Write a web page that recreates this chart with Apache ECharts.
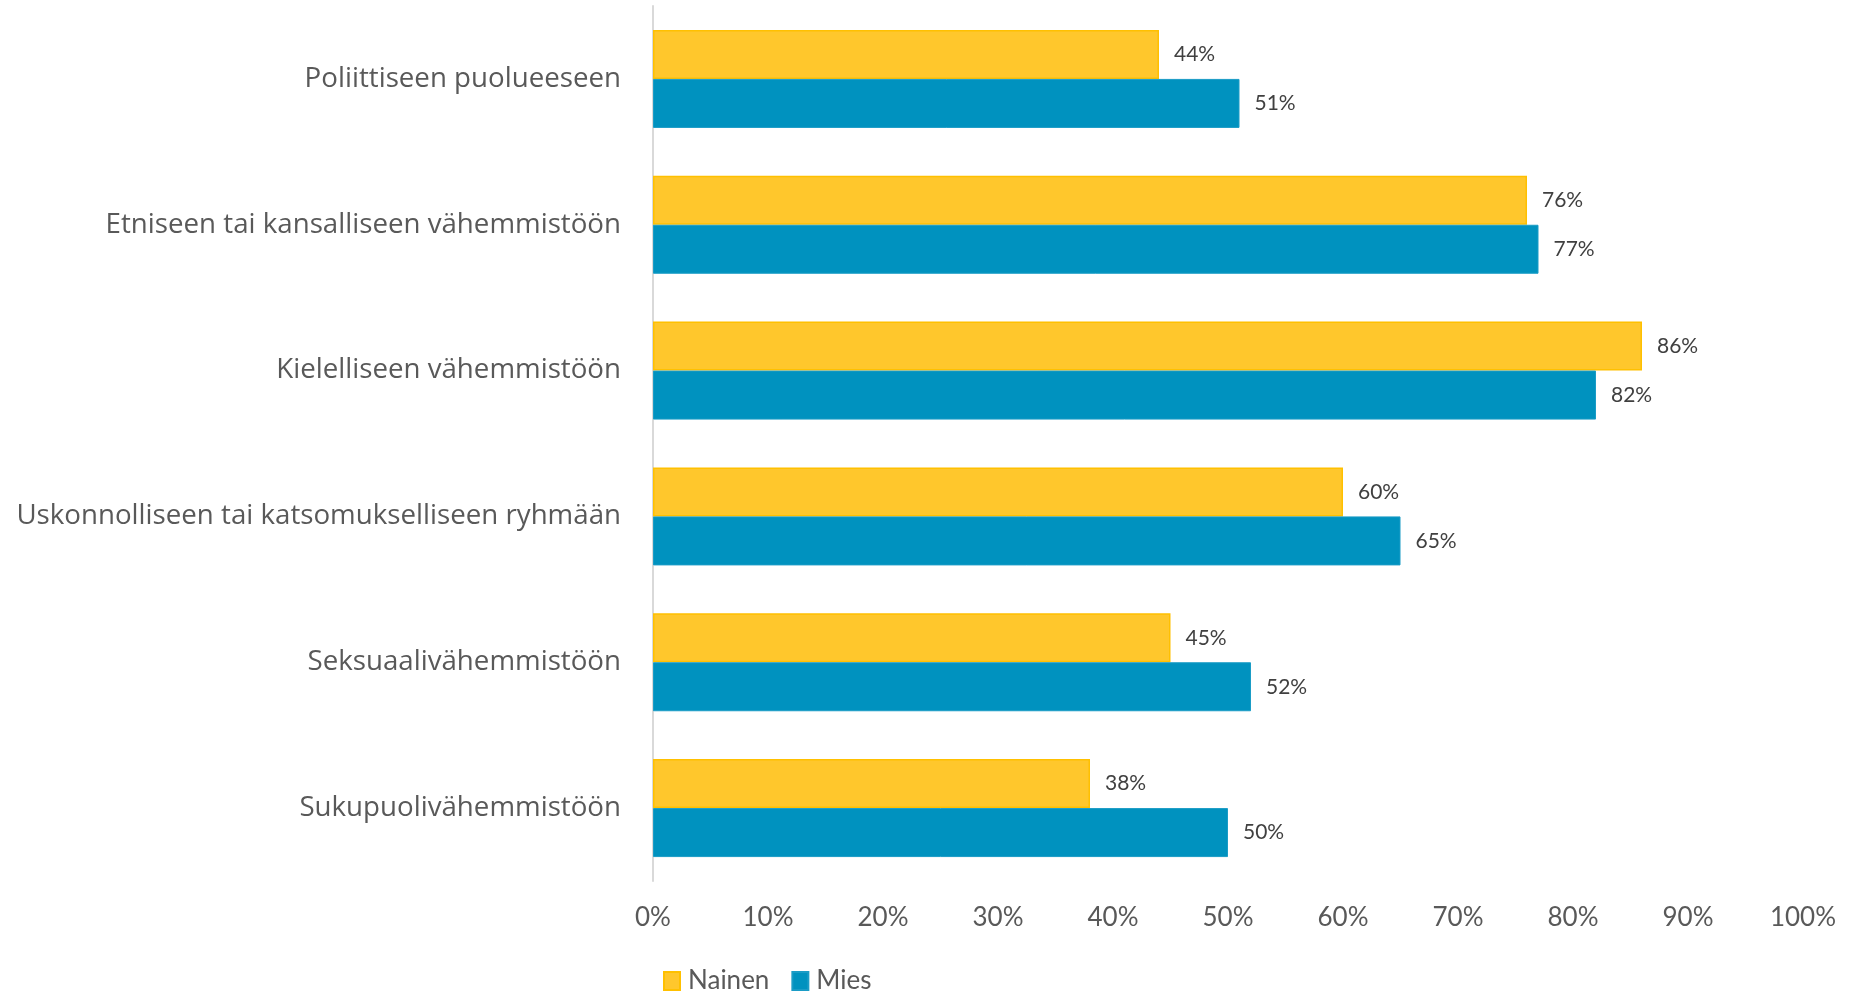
<!DOCTYPE html>
<html>
<head>
<meta charset="utf-8">
<script src="https://cdn.jsdelivr.net/npm/echarts@6/dist/echarts.min.js"></script>
<style>
  html, body { margin: 0; padding: 0; background: #ffffff; }
  #chart { width: 1862px; height: 991px; }
</style>
</head>
<body>
<div id="chart"></div>
<script>
// Survey groups (top to bottom)
const categories = [
  'Poliittiseen puolueeseen',
  'Etniseen tai kansalliseen vähemmistöön',
  'Kielelliseen vähemmistöön',
  'Uskonnolliseen tai katsomukselliseen ryhmään',
  'Seksuaalivähemmistöön',
  'Sukupuolivähemmistöön'
];
const seriesNames = ['Nainen', 'Mies'];
const nainen = [44, 76, 86, 60, 45, 38];
const mies = [51, 77, 82, 65, 52, 50];

const textColor = '#595959';
const fontFamily = 'Lato, "Open Sans", sans-serif';

const chart = echarts.init(document.getElementById('chart'), null, { renderer: 'canvas' });

const labelStyle = {
  show: true,
  position: 'right',
  distance: 15,
  color: '#404040',
  fontSize: 21,
  fontFamily: fontFamily,
  formatter: p => p.value + '%'
};

chart.setOption({
  animation: false,
  backgroundColor: '#ffffff',
  grid: { left: 653, right: 59, top: 6, bottom: 110, containLabel: false },
  legend: {
    data: seriesNames,
    left: 658,
    top: 963,
    itemWidth: 16,
    itemHeight: 18,
    itemGap: 22,
    icon: 'rect',
    textStyle: { color: textColor, fontSize: 26, fontFamily: fontFamily, padding: [0, 0, 0, 3] }
  },
  xAxis: {
    type: 'value',
    min: 0,
    max: 100,
    interval: 10,
    axisLine: { show: false },
    axisTick: { show: false },
    splitLine: { show: false },
    axisLabel: {
      color: textColor,
      fontSize: 26,
      fontFamily: fontFamily,
      margin: 24,
      formatter: v => v + '%'
    }
  },
  yAxis: {
    type: 'category',
    data: categories,
    inverse: true,
    axisLine: { show: true, lineStyle: { color: '#D9D9D9', width: 2 } },
    axisTick: { show: false },
    axisLabel: {
      color: textColor,
      fontSize: 27.7,
      fontFamily: '"Open Sans", Lato, sans-serif',
      margin: 32
    }
  },
  series: [
    {
      name: seriesNames[0],
      type: 'bar',
      data: nainen,
      barWidth: 49,
      barGap: '0%',
      barCategoryGap: '33%',
      itemStyle: { color: '#FFC72C', borderColor: '#FFC000', borderWidth: 1.5 },
      label: labelStyle
    },
    {
      name: seriesNames[1],
      type: 'bar',
      data: mies,
      barWidth: 49,
      barGap: '0%',
      itemStyle: { color: '#0092BF', borderColor: '#1A9CC6', borderWidth: 1 },
      label: labelStyle
    }
  ]
});
</script>
</body>
</html>
